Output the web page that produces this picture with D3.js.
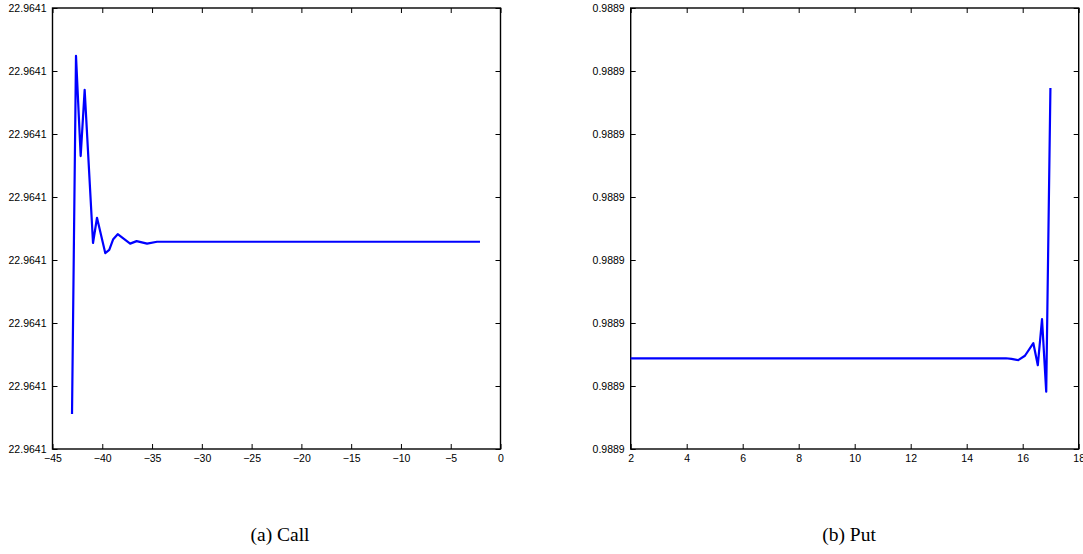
<!DOCTYPE html>
<html><head><meta charset="utf-8">
<script src="https://cdn.jsdelivr.net/npm/d3@7"></script>
<style>body{margin:0;background:#fff}svg{display:block}</style>
</head><body>
<script>
// Call panel: strike offset vs price deviation (y in tick-index units; every tick labelled 22.9641)
const callX = [-43.04,-42.64,-42.17,-41.77,-40.93,-40.53,-39.7,-39.3,-38.9,-38.45,-37.2,-36.55,-35.5,-34.5,-33.0,-2.06];
const callY = [0.556,6.24,4.65,5.70,3.27,3.67,3.11,3.16,3.33,3.41,3.26,3.30,3.26,3.29,3.29,3.29];
// Put panel
const putX = [2,15.4,15.6,15.84,16.08,16.38,16.54,16.69,16.84,16.99];
const putY = [1.44,1.44,1.43,1.41,1.48,1.68,1.33,2.06,0.91,5.73];
const callXTicks = [-45,-40,-35,-30,-25,-20,-15,-10,-5,0];
const putXTicks = [2,4,6,8,10,12,14,16,18];
const yTicks = [0,1,2,3,4,5,6,7];
const callYLabel = "22.9641";
const putYLabel = "0.9889";
const captions = ["(a) Call","(b) Put"];

const W=1083,H=554;
const svg=d3.select("body").append("svg").attr("width",W).attr("height",H);

function panel(left,xDomain,xTicks,xs,ys,yLabel,caption,capX){
  const top=8,bottom=449,width=448;
  const x=d3.scaleLinear().domain(xDomain).range([left,left+width]);
  const y=d3.scaleLinear().domain([0,7]).range([bottom,top]);
  const g=svg.append("g");
  const fmt=d=>String(d).replace("-","\u2212");
  const ax=g.append("g").attr("transform",`translate(0,${bottom})`)
    .call(d3.axisBottom(x).tickValues(xTicks).tickFormat(fmt).tickSizeInner(-5).tickSizeOuter(0).tickPadding(8));
  const axt=g.append("g").attr("transform",`translate(0,${top})`)
    .call(d3.axisTop(x).tickValues(xTicks).tickFormat("").tickSizeInner(-5).tickSizeOuter(0));
  const ay=g.append("g").attr("transform",`translate(${left},0)`)
    .call(d3.axisLeft(y).tickValues(yTicks).tickFormat(()=>yLabel).tickSizeInner(-5).tickSizeOuter(0).tickPadding(6));
  const ayr=g.append("g").attr("transform",`translate(${left+width},0)`)
    .call(d3.axisRight(y).tickValues(yTicks).tickFormat("").tickSizeInner(-5).tickSizeOuter(0));
  [ax,axt,ay,ayr].forEach(a=>{
    a.selectAll(".domain").remove();
    a.selectAll("line").attr("stroke","#000").attr("stroke-width",1);
    a.selectAll("text").attr("fill","#000").style("font-family","'Liberation Sans',Arial,sans-serif").style("font-size","10.5px");
  });
  ax.selectAll("text").attr("dy","0.5em");
  g.append("rect").attr("x",left).attr("y",top).attr("width",width).attr("height",bottom-top)
    .attr("fill","none").attr("stroke","#000").attr("stroke-width",1.4);
  const data=xs.map((d,i)=>[d,ys[i]]);
  g.append("path").datum(data).attr("fill","none").attr("stroke","#0000ff").attr("stroke-width",2.2)
    .attr("stroke-linejoin","round")
    .attr("d",d3.line().x(d=>x(d[0])).y(d=>y(d[1])));
  svg.append("text").attr("x",capX).attr("y",541).attr("text-anchor","middle")
    .style("font-family","'Liberation Serif','DejaVu Serif',serif").style("font-size","19.5px").text(caption);
}
panel(52.5,[-45,0],callXTicks,callX,callY,callYLabel,captions[0],280);
panel(630.7,[2,18],putXTicks,putX,putY,putYLabel,captions[1],849);
</script>
</body></html>
